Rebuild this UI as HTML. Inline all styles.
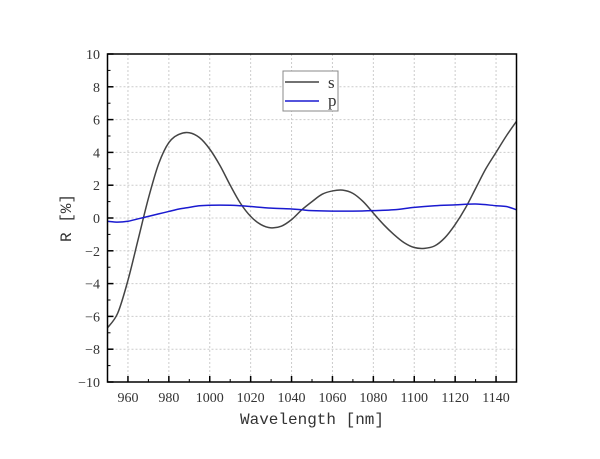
<!DOCTYPE html>
<html><head><meta charset="utf-8"><style>
body{margin:0;background:#fff;}
svg{display:block;font-family:"Liberation Serif","Noto Serif CJK SC",serif;}
</style></head><body>
<svg id="chart" width="600" height="459" viewBox="0 0 600 459">
<g id="grid"></g>
<g id="series"></g>
<rect x="107.5" y="54" width="409" height="328" fill="none" stroke="#000" stroke-width="1.5"/>
<g id="axes"></g>
<text x="312" y="424" font-size="16" text-anchor="middle" font-family="Liberation Mono, monospace" fill="#333">Wavelength [nm]</text>
<text transform="translate(71,218) rotate(-90)" font-size="16" text-anchor="middle" font-family="Liberation Mono, monospace" fill="#333">R [%]</text>
<g>
<rect x="283" y="71" width="55" height="40" fill="#fff" stroke="#888" stroke-width="1"/>
<line x1="285" y1="82" x2="319" y2="82" stroke="#444" stroke-width="1.5"/>
<text x="328" y="88" font-size="17" fill="#333">s</text>
<line x1="285" y1="101" x2="319" y2="101" stroke="#1a1ad0" stroke-width="1.5"/>
<text x="328" y="106" font-size="17" fill="#333">p</text>
</g>
</svg>
<script>
const sWl=[950,955,960,965,970,975,980,985,990,995,1000,1005,1010,1015,1020,1025,1030,1035,1040,1045,1050,1055,1060,1065,1070,1075,1080,1085,1090,1095,1100,1105,1110,1115,1120,1125,1130,1135,1140,1145,1150];
const sVals=[-6.7,-5.8,-3.8,-1.3,1.2,3.3,4.6,5.1,5.2,4.9,4.2,3.2,2.0,0.9,0.1,-0.4,-0.6,-0.5,-0.1,0.5,1.0,1.45,1.65,1.7,1.5,1.0,0.3,-0.4,-1.0,-1.5,-1.8,-1.85,-1.7,-1.2,-0.4,0.6,1.8,3.0,4.0,5.0,5.9];
const pWl=[950,955,960,965,970,975,980,985,990,995,1000,1010,1015,1020,1030,1040,1045,1050,1060,1070,1080,1090,1100,1110,1120,1130,1140,1145,1150];
const pVals=[-0.2,-0.25,-0.2,-0.05,0.1,0.25,0.4,0.55,0.65,0.75,0.78,0.78,0.75,0.7,0.6,0.55,0.5,0.45,0.42,0.42,0.45,0.5,0.65,0.75,0.8,0.85,0.75,0.7,0.5];
const xTicks=[960,980,1000,1020,1040,1060,1080,1100,1120,1140];
const yTicks=[-10,-8,-6,-4,-2,0,2,4,6,8,10];
const X0=107.5,X1=516.5,Y0=382,Y1=54;
const xs=v=>X0+(v-950)/200*(X1-X0);
const ys=v=>Y0-(v+10)/20*(Y0-Y1);
const NS='http://www.w3.org/2000/svg';
function mk(t,a,p){const e=document.createElementNS(NS,t);for(const k in a)e.setAttribute(k,a[k]);p.appendChild(e);return e;}
const grid=document.getElementById('grid'),axes=document.getElementById('axes'),ser=document.getElementById('series');
xTicks.forEach(v=>{
 const g=mk('line',{x1:xs(v),x2:xs(v),y1:Y1,y2:Y0,stroke:'#ccc','stroke-dasharray':'2,2'},grid);
 
 
 const t=mk('line',{x1:xs(v),x2:xs(v),y1:Y0,y2:Y0-6,stroke:'#000','stroke-width':1.5},axes);
 
 
 const l=mk('text',{x:xs(v),y:402,'font-size':14,'text-anchor':'middle',fill:'#333'},axes);
 l.textContent=v;
 
 
});
for(let v=950;v<=1150;v+=10){if(v%20===0)continue;
 const t=mk('line',{x1:xs(v),x2:xs(v),y1:Y0,y2:Y0-3,stroke:'#000'},axes);
 
 }
yTicks.forEach(v=>{
 if(v>-10&&v<10){const g=mk('line',{x1:X0,x2:X1,y1:ys(v),y2:ys(v),stroke:'#ccc','stroke-dasharray':'2,2'},grid);
 
 }
 const t=mk('line',{x1:X0,x2:X0+6,y1:ys(v),y2:ys(v),stroke:'#000','stroke-width':1.5},axes);
 
 
 const l=mk('text',{x:100,y:ys(v)+5,'font-size':14,'text-anchor':'end',fill:'#333'},axes);
 l.textContent=v<0?'\u2212'+(-v):v;
 
 
});
for(let v=-9;v<10;v+=2){
 const t=mk('line',{x1:X0,x2:X0+3,y1:ys(v),y2:ys(v),stroke:'#000'},axes);
 
 }
function path(wl,vals){const P=wl.map((w,i)=>[xs(w),ys(vals[i])]);let d='M'+P[0][0]+','+P[0][1];
 for(let i=0;i<P.length-1;i++){const p0=P[Math.max(0,i-1)],p1=P[i],p2=P[i+1],p3=P[Math.min(P.length-1,i+2)];
 d+=' C'+(p1[0]+(p2[0]-p0[0])/6)+','+(p1[1]+(p2[1]-p0[1])/6)+' '+(p2[0]-(p3[0]-p1[0])/6)+','+(p2[1]-(p3[1]-p1[1])/6)+' '+p2[0]+','+p2[1];}
 return d;}
const ls=mk('path',{d:path(sWl,sVals),fill:'none',stroke:'#444','stroke-width':1.5},ser);


const lp=mk('path',{d:path(pWl,pVals),fill:'none',stroke:'#1a1ad0','stroke-width':1.5},ser);


</script>
</body></html>
